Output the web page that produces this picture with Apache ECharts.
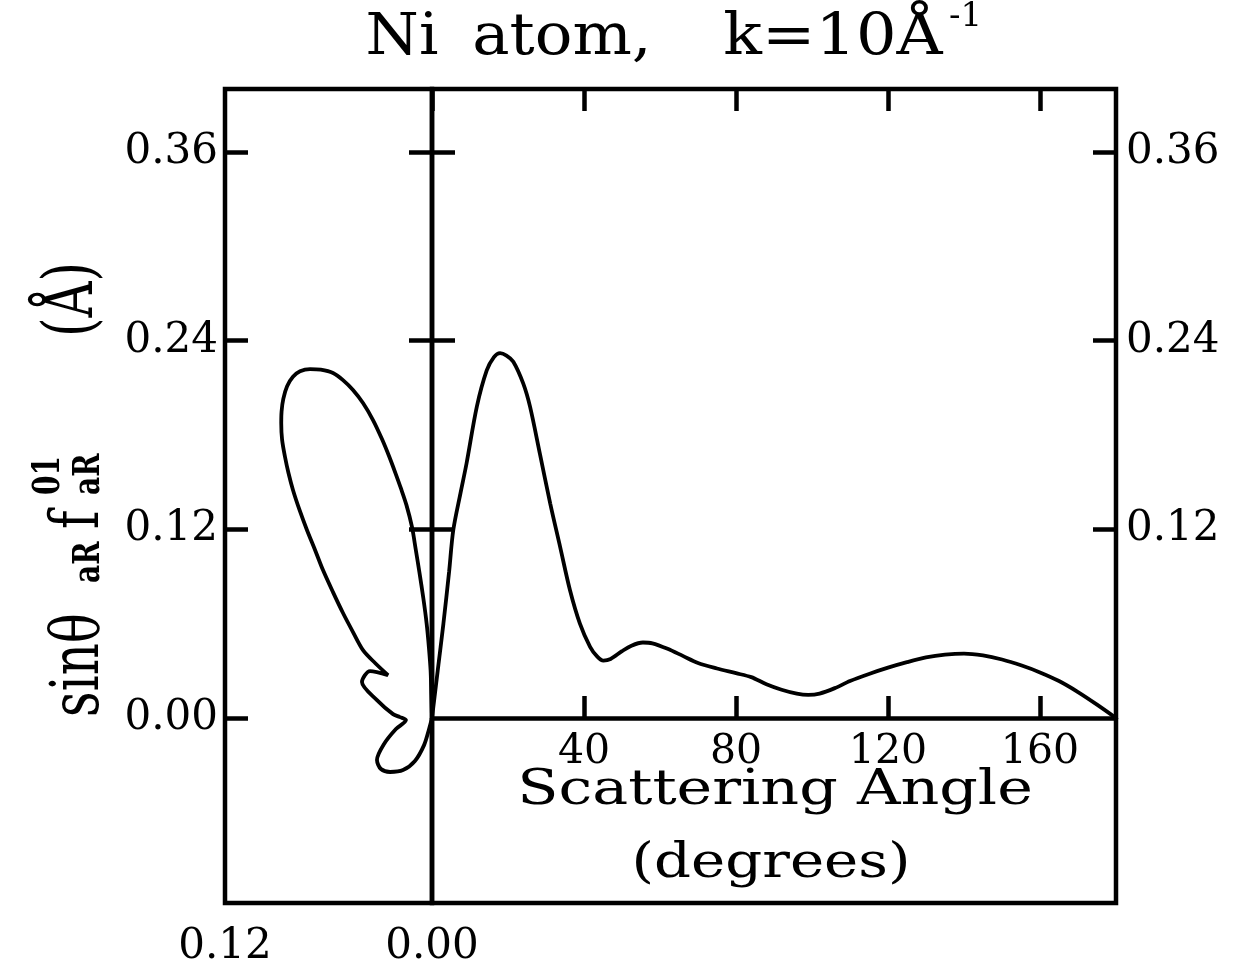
<!DOCTYPE html>
<html>
<head>
<meta charset="utf-8">
<style>
  html, body { margin: 0; padding: 0; background: #fff; }
  #chart { width: 1243px; height: 970px; }
</style>
<script src="https://cdn.jsdelivr.net/npm/echarts@6/dist/echarts.min.js"></script>
</head>
<body>
<div id="chart"></div>
<script>
// ---- Data ----
// Cartesian part: sin(theta) * f vs scattering angle (degrees)
const angleDeg = [0, 1.5, 3, 4.5, 5.6, 7.5, 9.1, 11.8, 14.4, 16.3, 17.9, 19.6, 21.4, 24.0, 25.8, 28.4, 31.1, 33.7, 36.3, 38.9, 41.6, 43.5, 45.1, 47, 50, 52.5, 55.5, 58, 62, 66, 70, 75, 80, 84, 88, 92, 96, 99, 102, 106, 110, 115, 120, 125, 130, 135, 140, 145, 150, 155, 160, 165, 170, 175, 180];
const sinFaR = [0, 0.030, 0.060, 0.093, 0.1195, 0.143, 0.162, 0.198, 0.221, 0.2295, 0.232, 0.2305, 0.2266, 0.2128, 0.198, 0.168, 0.1365, 0.109, 0.0814, 0.0602, 0.0453, 0.039, 0.0365, 0.0375, 0.0425, 0.046, 0.048, 0.0475, 0.044, 0.0395, 0.035, 0.0315, 0.0285, 0.026, 0.0215, 0.018, 0.0155, 0.0147, 0.0155, 0.019, 0.0235, 0.028, 0.032, 0.0355, 0.0385, 0.0403, 0.041, 0.0398, 0.0372, 0.0335, 0.029, 0.0235, 0.0165, 0.0085, 0];

// Polar-style lobe on the left: horizontal distance left of the axis, and height
const lobeX = [0, 0.0004, 0.0008, 0.0018, 0.0031, 0.0050, 0.0073, 0.0094, 0.0116, 0.0148, 0.0180, 0.0212, 0.0247, 0.0290, 0.0342, 0.0400, 0.0458, 0.0516, 0.0574, 0.0645, 0.0707, 0.0765, 0.0806, 0.0840, 0.0862, 0.0872, 0.0874, 0.0869, 0.0852, 0.0832, 0.0806, 0.0768, 0.0725, 0.0678, 0.0632, 0.0574, 0.0516, 0.0458, 0.0400, 0.0330, 0.0255, 0.0359, 0.0406, 0.0319, 0.0226, 0.0186, 0.0151, 0.0209, 0.0278, 0.0319, 0.0296, 0.0243, 0.0168, 0.0099, 0.0046, 0.0017, 0];
const lobeY = [0, 0.015, 0.030, 0.045, 0.060, 0.076, 0.0927, 0.107, 0.1215, 0.1354, 0.1460, 0.1558, 0.1660, 0.1774, 0.1895, 0.2003, 0.2086, 0.2149, 0.2194, 0.2215, 0.2219, 0.2205, 0.2170, 0.2110, 0.2030, 0.1950, 0.1876, 0.1770, 0.1660, 0.1558, 0.1450, 0.1323, 0.1196, 0.1069, 0.0941, 0.0801, 0.0668, 0.0547, 0.0432, 0.0350, 0.0273, 0.0299, 0.0229, 0.0114, 0.0025, 0.0006, -0.0013, -0.0070, -0.0165, -0.0267, -0.0324, -0.0343, -0.0331, -0.0273, -0.0172, -0.0070, 0];

// Tick values
const yLabelsLeft = [0, 0.12, 0.24, 0.36];
const yLabelsRight = [0.12, 0.24, 0.36];
const angleTicks = [40, 80, 120, 160];
const topTicks = [0, 40, 80, 120, 160];
const lobeAxisLabels = [0.12, 0];

const Y_MIN = -0.1176, Y_MAX = 0.40;

// ---- Chart ----
const chart = echarts.init(document.getElementById('chart'), null, { renderer: 'canvas' });
const NUM_FONT = 'DejaVu Serif';
const BLACK = '#000';

function fmt2(v) { return Math.abs(v) < 1e-9 ? '0.00' : Number(v).toFixed(2); }

const lobeData = lobeX.map((x, i) => [x, lobeY[i]]);
const cartData = angleDeg.map((a, i) => [a, sinFaR[i]]);

const tickCommon = { inside: true, length: 23, lineStyle: { color: BLACK, width: 4.5 } };
const numLabel = { color: BLACK, fontFamily: NUM_FONT, fontSize: 42 };

const option = {
  backgroundColor: '#fff',
  animation: false,
  grid: [
    { left: 225, top: 89, width: 207, height: 814, show: true, borderColor: BLACK, borderWidth: 4.5, backgroundColor: 'transparent' },
    { left: 432, top: 89, width: 684, height: 814, show: true, borderColor: BLACK, borderWidth: 4.5, backgroundColor: 'transparent' },
    { left: 432, top: 89, width: 684, height: 629, show: false }
  ],
  xAxis: [
    { // left lobe axis (bottom)
      gridIndex: 0, type: 'value', min: 0, max: 0.12, inverse: true, position: 'bottom',
      axisLine: { show: false, onZero: false },
      axisTick: { show: false },
      splitLine: { show: false },
      axisLabel: Object.assign({ customValues: lobeAxisLabels, formatter: fmt2, margin: 23, showMinLabel: true, showMaxLabel: true }, numLabel)
    },
    { // top edge ticks of right box
      gridIndex: 1, type: 'value', min: 0, max: 180, position: 'top',
      axisLine: { show: false, onZero: false },
      axisTick: Object.assign({ customValues: topTicks }, tickCommon, { length: 22 }),
      splitLine: { show: false },
      axisLabel: { show: false }
    },
    { // scattering angle axis at zero level
      gridIndex: 2, type: 'value', min: 0, max: 180, position: 'bottom',
      axisLine: { show: true, onZero: false, lineStyle: { color: BLACK, width: 4.5 } },
      axisTick: Object.assign({ customValues: angleTicks }, tickCommon, { length: 22 }),
      splitLine: { show: false },
      axisLabel: Object.assign({ customValues: angleTicks, margin: 14 }, numLabel, { fontSize: 41 })
    }
  ],
  yAxis: [
    { // left box edge
      gridIndex: 0, type: 'value', min: Y_MIN, max: Y_MAX, position: 'left',
      axisLine: { show: false, onZero: false },
      axisTick: Object.assign({ customValues: yLabelsLeft }, tickCommon),
      splitLine: { show: false },
      axisLabel: Object.assign({ customValues: yLabelsLeft, formatter: fmt2, margin: 7 }, numLabel)
    },
    { // inner axis, ticks pointing left
      gridIndex: 0, type: 'value', min: Y_MIN, max: Y_MAX, position: 'right',
      axisLine: { show: false, onZero: false },
      axisTick: Object.assign({ customValues: yLabelsRight }, tickCommon),
      splitLine: { show: false },
      axisLabel: { show: false }
    },
    { // inner axis, ticks pointing right
      gridIndex: 1, type: 'value', min: Y_MIN, max: Y_MAX, position: 'left',
      axisLine: { show: false, onZero: false },
      axisTick: Object.assign({ customValues: yLabelsRight }, tickCommon),
      splitLine: { show: false },
      axisLabel: { show: false }
    },
    { // right box edge
      gridIndex: 1, type: 'value', min: Y_MIN, max: Y_MAX, position: 'right',
      axisLine: { show: false, onZero: false },
      axisTick: Object.assign({ customValues: yLabelsRight }, tickCommon),
      splitLine: { show: false },
      axisLabel: Object.assign({ customValues: yLabelsRight, formatter: fmt2, margin: 10 }, numLabel)
    },
    { // value scale of the scattering-angle curve (upper part only)
      gridIndex: 2, type: 'value', min: 0, max: Y_MAX, show: false
    }
  ],
  series: [
    {
      type: 'line', xAxisIndex: 0, yAxisIndex: 0, data: lobeData,
      smooth: 0.3, symbol: 'none', clip: false,
      lineStyle: { color: BLACK, width: 3.8 }
    },
    {
      type: 'line', xAxisIndex: 2, yAxisIndex: 4, data: cartData,
      smooth: 0.3, symbol: 'none', clip: false,
      lineStyle: { color: BLACK, width: 3.8 }
    }
  ],
  graphic: [
    // Title
    { type: 'text', x: 402, y: 39, scaleX: 1.05, style: { text: 'Ni', fill: BLACK, font: '58px "DejaVu Serif"', align: 'center', verticalAlign: 'middle' } },
    { type: 'text', x: 562, y: 39, scaleX: 1.08, style: { text: 'atom,', fill: BLACK, font: '58px "DejaVu Serif"', align: 'center', verticalAlign: 'middle' } },
    { type: 'text', x: 833, y: 39, scaleX: 1.1, style: { text: 'k=10Å', fill: BLACK, font: '58px "DejaVu Serif"', align: 'center', verticalAlign: 'middle' } },
    { type: 'text', x: 949, y: 17, style: { text: '-1', fill: BLACK, font: '34px "DejaVu Serif"', align: 'left', verticalAlign: 'middle' } },
    // X axis title
    { type: 'text', x: 775, y: 791, scaleX: 1.23, style: { text: 'Scattering Angle', fill: BLACK, font: '49px "DejaVu Serif"', align: 'center', verticalAlign: 'middle' } },
    { type: 'text', x: 771, y: 864, scaleX: 1.18, style: { text: '(degrees)', fill: BLACK, font: '49px "DejaVu Serif"', align: 'center', verticalAlign: 'middle' } },
    // Y axis title (rotated, reading upward)
    {
      type: 'group', x: 80, y: 717, rotation: Math.PI / 2,
      children: [
        { type: 'text', x: 0, y: 0, scaleY: 1.35, style: { text: 'sinθ', fill: BLACK, font: '50px "DejaVu Serif"', align: 'left', verticalAlign: 'middle' } },
        { type: 'text', x: 134, y: 10, scaleY: 1.3, style: { text: 'aR', fill: BLACK, font: 'bold 28px "DejaVu Serif"', align: 'left', verticalAlign: 'middle' } },
        { type: 'text', x: 188, y: 0, scaleY: 1.35, style: { text: 'f', fill: BLACK, font: '50px "DejaVu Serif"', align: 'left', verticalAlign: 'middle' } },
        { type: 'text', x: 222, y: -30, scaleY: 1.3, style: { text: '01', fill: BLACK, font: 'bold 28px "DejaVu Serif"', align: 'left', verticalAlign: 'middle' } },
        { type: 'text', x: 222, y: 10, scaleY: 1.3, style: { text: 'aR', fill: BLACK, font: 'bold 28px "DejaVu Serif"', align: 'left', verticalAlign: 'middle' } },
        { type: 'text', x: 380, y: -6, scaleY: 1.4, style: { text: '(Å)', fill: BLACK, font: '50px "DejaVu Serif"', align: 'left', verticalAlign: 'middle' } }
      ]
    }
  ]
};

chart.setOption(option);
</script>
</body>
</html>
